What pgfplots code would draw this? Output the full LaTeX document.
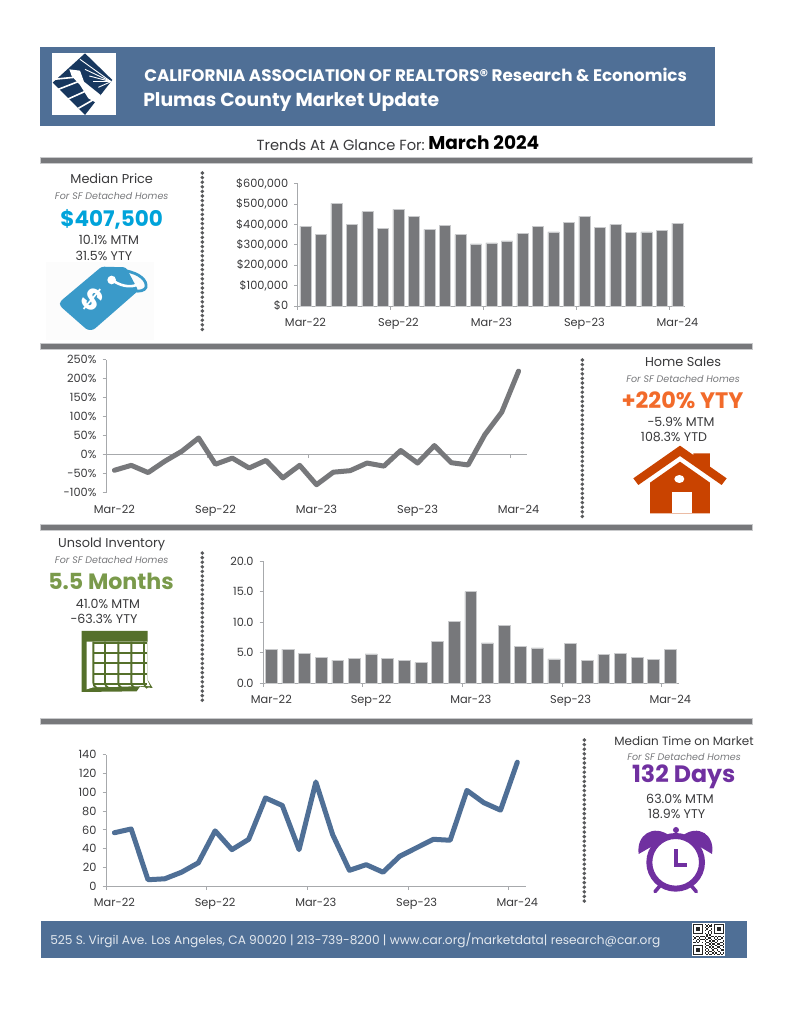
\documentclass[border=0pt]{standalone}
\usepackage{fontspec}
\setmainfont{Poppins}
\usepackage{pgfplots}
\pgfplotsset{compat=1.18}

% one reference pixel
\newlength\px
\setlength\px{0.7737bp}
\newcommand\fs[1]{\fontsize{#1}{#1}\selectfont}

\definecolor{bargrey}{HTML}{77787B}
\definecolor{edgegrey}{HTML}{C9CACC}
\definecolor{axisgrey}{HTML}{A7A9AC}
\definecolor{ink}{HTML}{3A3A3C}
\definecolor{subgrey}{HTML}{77787B}
\definecolor{navy}{HTML}{4F6F96}
\definecolor{logoblue}{HTML}{17375E}
\definecolor{priceblue}{HTML}{00A3DA}
\definecolor{tagblue}{HTML}{3A9AC9}
\definecolor{salesorange}{HTML}{F26B2B}
\definecolor{housered}{HTML}{C94300}
\definecolor{invgreen}{HTML}{7A9A4B}
\definecolor{calgreen}{HTML}{55702B}
\definecolor{timepurple}{HTML}{7030A0}
\definecolor{dotgrey}{HTML}{58595B}

\pgfplotsset{
  panel/.style={
    scale only axis,
    xmin=-0.5, xmax=24.5,
    axis lines*=left,
    axis line style={draw=axisgrey, line width=1\px},
    tick style={draw=axisgrey, line width=1\px},
    tick align=outside,
    major tick length=3.5\px,
    minor tick length=3.5\px,
    xtick={0,6,12,18,24},
    xticklabels={Mar-22,Sep-22,Mar-23,Sep-23,Mar-24},
    major x tick style={draw=none},
    minor xtick={-0.5,5.5,11.5,17.5,23.5},
    scaled y ticks=false,
    tick label style={font=\fs{8.8}, text=ink},
    x tick label style={yshift=-4\px},
    y tick label style={xshift=-1.5\px},
    clip=false,
  },
  bars/.style={ybar, bar width=11.3\px, fill=bargrey, draw=edgegrey, line width=0.6\px},
}

\begin{document}
\begin{tikzpicture}[x=\px, y=-\px,
    txt/.style={inner sep=0pt, text=ink, font=\fs{10}},
    stat/.style={inner sep=0pt, text=ink, font=\fs{9.8}},
    sub/.style={inner sep=0pt, text=subgrey, font=\fs{7.4}\itshape},
    rule/.style={fill=bargrey, draw=edgegrey, line width=0.6\px},
    dots/.style={draw=dotgrey, line width=3.9\px, line cap=round, dash pattern=on 0pt off 4.6\px},
  ]
\path[use as bounding box, fill=white] (0,0) rectangle (791,1024);
\coordinate (priceorigin) at (297.7,306);
\coordinate (salesorigin) at (106,492.7);
\coordinate (invorigin) at (263,683.3);
\coordinate (timeorigin) at (106,886.3);

% header
\fill[navy] (40,47) rectangle (715,126);
\fill[white] (52,53) rectangle (116,115);
\begin{scope}[shift={(30,40)}, x=0.3333\px, y=-0.3333\px]
  \fill[logoblue] (68,128) -- (165,40) -- (247,120) -- (165,225) -- cycle;
  \fill[white] (118,88) -- (150,92) -- (162,125) -- (212,165) -- (205,192) -- (175,175) -- (150,135) -- (125,108) -- cycle;
  \foreach \a/\b in {150/58, 165/88, 178/108, 190/125, 205/142}
    \draw[white, line width=0.9\px] (243,125) -- (\a,\b);
  \foreach \a/\b/\c/\d in {70/118/132/112, 85/148/152/122, 112/178/170/152, 145/205/192/178}
    \draw[white, line width=1.6\px] (\a,\b) -- (\c,\d);
\end{scope}
\node[anchor=west, inner sep=0pt, text=white, font=\fs{13}\bfseries] at (144,75) {CALIFORNIA ASSOCIATION OF REALTORS® Research \& Economics};
\node[anchor=west, inner sep=0pt, text=white, font=\fs{14.6}\bfseries] at (143,102) {Plumas County Market Update};

\node[anchor=east, txt, font=\fs{11.4}] at (425,145) {Trends At A Glance For:};
\node[anchor=west, txt, text=black, font=\fs{14.4}\bfseries] at (428,143) {March 2024};

% section rules
\foreach \y in {157,343,524,718}
  \path[rule] (40,\y) rectangle (752,\y+6);

% dotted dividers
\draw[dots] (202.3,173) -- (202.3,330);
\draw[dots] (582.3,360) -- (582.3,517);
\draw[dots] (202.3,553) -- (202.3,703);
\draw[dots] (584.3,740) -- (584.3,904);

% median price panel
\node[txt] at (111.7,179) {Median Price};
\node[sub] at (111.7,196) {For SF Detached Homes};
\node[inner sep=0pt, text=priceblue, font=\fs{16.7}\bfseries] at (111.7,219) {\$407,500};
\node[stat] at (109,240) {10.1\% MTM};
\node[stat] at (104,255.5) {31.5\% YTY};
\fill[black!1] (46,262) rectangle (154,340);
\begin{scope}[shift={(30,160)}, x=0.3333\px, y=-0.3333\px]
  \fill[tagblue, rounded corners=2.5\px] (215,320) -- (288,322) -- (325,392) -- (190,510) -- (172,510) -- (90,438) -- (90,425) -- cycle;
  \draw[tagblue, line width=2.8\px] (285,332) .. controls (330,340) and (352,362) .. (348,382) .. controls (340,402) and (290,395) .. (252,368);
  \draw[white, line width=2.6\px, line cap=round] (252,364) .. controls (280,382) and (310,382) .. (325,372);
  \fill[white] (245,360) circle[radius=13];
  \node[text=white, rotate=-40, font=\fs{23}\bfseries, inner sep=0pt] at (187,420) {\$};
\end{scope}

% home sales panel
\node[txt] at (683,362) {Home Sales};
\node[sub] at (683,379) {For SF Detached Homes};
\node[inner sep=0pt, text=salesorange, font=\fs{17.4}\bfseries] at (682.5,400.5) {+220\% YTY};
\node[stat] at (681,422) {-5.9\% MTM};
\node[stat] at (674,437) {108.3\% YTD};
\begin{scope}[shift={(570,350)}, x=0.3333\px, y=-0.3333\px]
  \fill[housered] (330,287) -- (370,315) -- (370,310) -- (420,310) -- (420,350) -- (470,385) -- (455,405) -- (330,318) -- (205,405) -- (190,385) -- cycle;
  \fill[housered] (240,490) -- (240,398) -- (330,335) -- (420,398) -- (420,490) -- cycle;
  \fill[white] (305,425) rectangle (365,490);
  \fill[white] (328,387) ellipse[x radius=15, y radius=12];
\end{scope}

% inventory panel
\node[txt] at (111.7,544) {Unsold Inventory};
\node[sub] at (111.7,560) {For SF Detached Homes};
\node[inner sep=0pt, text=invgreen, font=\fs{17.2}\bfseries] at (111,581.5) {5.5 Months};
\node[stat] at (108,603.5) {41.0\% MTM};
\node[stat] at (104,619) {-63.3\% YTY};
\begin{scope}[shift={(40,530)}, x=0.3333\px, y=-0.3333\px]
  \fill[calgreen] (125,303) -- (323,303) -- (323,450) -- (338,474) -- (300,470) -- (290,484) -- (125,486) -- cycle;
  \fill[white] (140,335) -- (323,335) -- (323,452) -- (330,468) -- (160,472) -- (140,478) -- cycle;
  \foreach \a in {160,195,235,274,312}
    \draw[calgreen, line width=1.9\px] (\a,335) -- (\a,458) .. controls (\a,466) and (\a+4,470) .. (\a+10,474);
  \foreach \b in {338,368,400,432,462}
    \draw[calgreen, line width=1.9\px] (160,\b) -- (322,\b);
\end{scope}

% time on market panel
\node[txt, font=\fs{9.3}] at (684,740.5) {Median Time on Market};
\node[sub] at (684,757) {For SF Detached Homes};
\node[inner sep=0pt, text=timepurple, font=\fs{18.4}\bfseries] at (683.7,777) {132 Days};
\node[stat] at (680,798.5) {63.0\% MTM};
\node[stat] at (676.7,814) {18.9\% YTY};
\begin{scope}[shift={(570,730)}, x=0.3333\px, y=-0.3333\px]
  \fill[timepurple] (206,372) .. controls (198,315) and (250,280) .. (300,318) -- cycle;
  \fill[timepurple] (426,372) .. controls (436,315) and (385,280) .. (336,318) -- cycle;
  \fill[timepurple] (318,300) circle[radius=9];
  \draw[timepurple, line width=2.2\px] (318,300) -- (318,330);
  \draw[timepurple, line width=3.6\px, line cap=round] (272,465) -- (255,485);
  \draw[timepurple, line width=3.6\px, line cap=round] (362,465) -- (379,485);
  \draw[timepurple, fill=white, line width=6\px] (317,397) circle[radius=79];
  \draw[timepurple, line width=3.2\px, line join=miter] (318,358) -- (318,405) -- (352,405);
\end{scope}

% footer
\fill[navy] (41,921) rectangle (747,958);
\node[anchor=west, inner sep=0pt, text=white!85!navy, font=\fs{9.45}] at (50,940) {525 S. Virgil Ave. Los Angeles, CA 90020 | 213-739-8200 | www.car.org/marketdata| research@car.org};
\fill[white] (692,923) rectangle (725,956);
\begin{scope}[shift={(692.5,923.5)}, x=1.52\px, y=-1.52\px]
  \foreach \r/\cs in {
    0/{0,1,2,3,4,5,6,8,10,12,14,15,16,17,18,19,20},
    1/{0,6,9,11,12,14,20},
    2/{0,2,3,4,6,8,10,14,16,17,18,20},
    3/{0,2,3,4,6,9,12,14,16,17,18,20},
    4/{0,2,3,4,6,8,11,14,16,17,18,20},
    5/{0,6,10,12,14,20},
    6/{0,1,2,3,4,5,6,8,10,12,14,15,16,17,18,19,20},
    7/{9,11},
    8/{0,2,3,5,6,7,9,12,13,15,17,18,20},
    9/{1,4,8,10,11,14,16,19},
    10/{0,3,5,6,7,9,12,15,17,18},
    11/{2,4,8,11,13,14,16,20},
    12/{0,1,3,6,9,10,12,15,18,19},
    13/{8,11,13,14,16,17,20},
    14/{0,1,2,3,4,5,6,9,10,12,15,18,19},
    15/{0,6,8,11,13,16,17,20},
    16/{0,2,3,4,6,9,12,14,15,18},
    17/{0,2,3,4,6,8,10,13,16,19,20},
    18/{0,2,3,4,6,9,11,12,14,17},
    19/{0,6,8,10,13,15,18,20},
    20/{0,1,2,3,4,5,6,9,11,12,14,16,17,19}}
    \foreach \c in \cs
      \fill[black!85] (\c,\r) rectangle (\c+1,\r+1);
\end{scope}

% median price
\begin{axis}[panel, at={(priceorigin)}, anchor=south west, width=387.5\px, height=122\px,
    ymin=0, ymax=600000, ytick={0,100000,200000,300000,400000,500000,600000},
    yticklabels={\$0,{\$100,000},{\$200,000},{\$300,000},{\$400,000},{\$500,000},{\$600,000}}]
  \addplot[bars] coordinates {
    (0,393000) (1,351000) (2,505000) (3,402000) (4,464000)
    (5,382000) (6,475000) (7,442000) (8,377000) (9,397000)
    (10,351000) (11,305000) (12,310000) (13,320000) (14,356000)
    (15,390000) (16,364000) (17,411000) (18,442000) (19,387000)
    (20,402000) (21,362000) (22,364000) (23,370000) (24,407500)
  };
\end{axis}

% home sales yoy: zero line with ticks, then the series
\begin{axis}[scale only axis, at={(salesorigin)}, anchor=south west, width=421\px, height=133\px,
    xmin=-0.5, xmax=24.5, ymin=-100, ymax=250,
    axis x line=middle, axis y line=none,
    axis line style={draw=axisgrey, line width=1\px, -},
    xtick={-0.5,5.5,11.5,17.5,23.5}, xticklabels={},
    tick style={draw=axisgrey, line width=1\px},
    tick align=outside, major tick length=3.5\px]
\end{axis}
\begin{axis}[panel, at={(salesorigin)}, anchor=south west, width=421\px, height=133\px,
    x axis line style={draw=none}, minor xtick={},
    ymin=-100, ymax=250, ytick={-100,-50,0,50,100,150,200,250},
    yticklabels={-100\%,-50\%,0\%,50\%,100\%,150\%,200\%,250\%}]
  \addplot[bargrey, line width=5\px, line join=round, line cap=round] coordinates {
    (0,-41) (1,-28) (2,-47) (3,-17) (4,9)
    (5,44) (6,-25) (7,-9) (8,-35) (9,-15)
    (10,-61) (11,-28) (12,-79) (13,-46) (14,-42)
    (15,-22) (16,-30) (17,11) (18,-22) (19,24)
    (20,-21) (21,-27) (22,53) (23,112) (24,220)
  };
\end{axis}

% unsold inventory
\begin{axis}[panel, at={(invorigin)}, anchor=south west, width=415.6\px, height=122.3\px,
    ymin=0, ymax=20, ytick={0,5,10,15,20},
    yticklabels={0.0,5.0,10.0,15.0,20.0}]
  \addplot[ybar, bar width=11.9\px, fill=bargrey, draw=edgegrey, line width=0.6\px] coordinates {
    (0,5.6) (1,5.6) (2,4.9) (3,4.2) (4,3.8)
    (5,4.1) (6,4.8) (7,4.1) (8,3.8) (9,3.4)
    (10,6.9) (11,10.1) (12,15.0) (13,6.6) (14,9.5)
    (15,6.0) (16,5.8) (17,4.0) (18,6.5) (19,3.8)
    (20,4.7) (21,4.9) (22,4.2) (23,3.9) (24,5.5)
  };
\end{axis}

% median time on market
\begin{axis}[panel, at={(timeorigin)}, anchor=south west, width=419.7\px, height=131.6\px,
    ymin=0, ymax=140, ytick={0,20,40,60,80,100,120,140},
    yticklabels={0,20,40,60,80,100,120,140}]
  \addplot[navy, line width=5\px, line join=round, line cap=round] coordinates {
    (0,57) (1,61) (2,7) (3,8) (4,15)
    (5,25) (6,59) (7,39) (8,50) (9,94)
    (10,86) (11,39) (12,111) (13,55) (14,17)
    (15,23) (16,15) (17,32) (18,41) (19,50)
    (20,49) (21,102) (22,89) (23,81) (24,132)
  };
\end{axis}
\end{tikzpicture}
\end{document}
